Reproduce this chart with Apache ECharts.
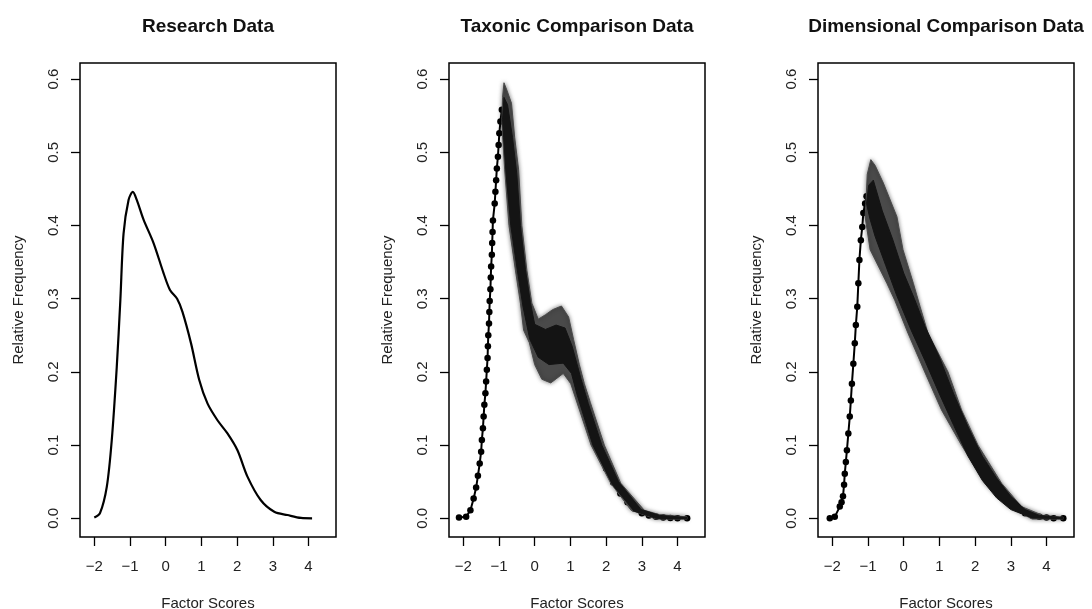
<!DOCTYPE html>
<html>
<head>
<meta charset="utf-8">
<script src="https://cdn.jsdelivr.net/npm/echarts@6/dist/echarts.min.js"></script>
<style>
  html, body { margin: 0; padding: 0; background: #fff; }
  #chart { width: 1092px; height: 609px; }
</style>
</head>
<body>
<div id="chart"></div>
<script>
// ---- labels ----
const panelTitles = ['Research Data', 'Taxonic Comparison Data', 'Dimensional Comparison Data'];
const xAxisTitle = 'Factor Scores';
const yAxisTitle = 'Relative Frequency';
const xTicks = [-2, -1, 0, 1, 2, 3, 4];
const yTicks = [0, 0.1, 0.2, 0.3, 0.4, 0.5, 0.6];

// ---- Research data: density of observed factor scores ----
const researchX = [-2.0, -1.84, -1.65, -1.51, -1.37, -1.27, -1.18, -1.04, -0.92, -0.81, -0.62, -0.34, -0.06, 0.12, 0.32, 0.47, 0.71, 0.94, 1.17, 1.45, 1.73, 2.01, 2.29, 2.66, 3.04, 3.41, 3.79, 4.1];
const researchY = [0.001, 0.007, 0.043, 0.107, 0.207, 0.298, 0.389, 0.435, 0.446, 0.435, 0.408, 0.376, 0.335, 0.312, 0.300, 0.282, 0.239, 0.189, 0.157, 0.134, 0.116, 0.093, 0.057, 0.025, 0.009, 0.0045, 0.0005, 0.0];

// ---- Taxonic comparison: average curve (points) ----
const taxX = [-2.12, -1.92, -1.80, -1.71, -1.64, -1.59, -1.54, -1.50, -1.48, -1.45,
  -1.43, -1.41, -1.38, -1.36, -1.34, -1.32, -1.31, -1.30, -1.28, -1.27,
  -1.26, -1.24, -1.23, -1.22, -1.20, -1.19, -1.18, -1.17, -1.12, -1.10,
  -1.08, -1.06, -1.03, -1.01, -0.99, -0.96, -0.92, -0.82, -0.7, -0.6,
  -0.5, -0.4, -0.3, -0.2, -0.1, 0, 0.2, 0.4, 0.6, 0.8,
  1.0, 1.2, 1.4, 1.6, 1.8, 2.0, 2.2, 2.4, 2.6, 2.8,
  3.0, 3.2, 3.4, 3.6, 3.8, 4.0, 4.27];
const taxY = [0.001, 0.002, 0.011, 0.027, 0.042, 0.058, 0.075, 0.091, 0.107, 0.123,
  0.139, 0.155, 0.171, 0.187, 0.203, 0.219, 0.235, 0.250, 0.266, 0.282,
  0.297, 0.313, 0.329, 0.344, 0.360, 0.376, 0.391, 0.407, 0.430, 0.446,
  0.462, 0.478, 0.494, 0.510, 0.526, 0.542, 0.558, 0.567, 0.505, 0.455,
  0.405, 0.36, 0.32, 0.285, 0.26, 0.245, 0.235, 0.235, 0.24, 0.24,
  0.225, 0.19, 0.155, 0.123, 0.094, 0.068, 0.049, 0.034, 0.022, 0.013,
  0.007, 0.004, 0.002, 0.001, 0.0003, 0, 0];

// Taxonic replicates: outline of the full scatter and of its dense core
const taxCloudX = [-0.92, -0.90, -0.86, -0.78, -0.65, -0.56, -0.45, -0.36, -0.22, -0.08, 0.10, 0.30, 0.50, 0.75, 0.95, 1.09, 1.25, 1.39, 1.56, 1.95, 2.41, 3.07, 3.5, 4.27,
  4.27, 3.4, 2.70, 2.13, 1.58, 1.01, 0.80, 0.45, 0.20, 0.0, -0.15, -0.31, -0.40, -0.54, -0.72, -0.84];
const taxCloudY = [0.54, 0.575, 0.595, 0.585, 0.567, 0.52, 0.476, 0.40, 0.339, 0.294, 0.272, 0.278, 0.285, 0.29, 0.275, 0.244, 0.21, 0.184, 0.158, 0.10, 0.048, 0.011, 0.005, 0.002,
  -0.001, -0.001, 0.011, 0.048, 0.10, 0.184, 0.198, 0.185, 0.19, 0.21, 0.24, 0.257, 0.294, 0.339, 0.40, 0.476];
const taxCoreX = [-0.90, -0.86, -0.76, -0.62, -0.50, -0.40, -0.26, -0.12, 0.0, 0.3, 0.6, 0.85, 1.05, 1.3, 1.5, 1.88, 2.35, 2.98, 3.5, 4.27,
  4.27, 3.4, 2.78, 2.18, 1.63, 1.18, 1.03, 0.8, 0.4, 0.1, -0.14, -0.33, -0.49, -0.67, -0.80, -0.87];
const taxCoreY = [0.545, 0.575, 0.565, 0.52, 0.47, 0.40, 0.34, 0.295, 0.265, 0.258, 0.264, 0.26, 0.235, 0.19, 0.157, 0.10, 0.05, 0.012, 0.004, 0.0012,
  -0.0005, 0.0, 0.01, 0.046, 0.10, 0.17, 0.198, 0.212, 0.21, 0.22, 0.245, 0.29, 0.34, 0.40, 0.47, 0.52];

// ---- Dimensional comparison: average curve (points) ----
const dimX = [-2.07, -1.93, -1.79, -1.74, -1.70, -1.67, -1.65, -1.62, -1.59, -1.55,
  -1.51, -1.48, -1.45, -1.41, -1.37, -1.34, -1.30, -1.27, -1.24, -1.20,
  -1.16, -1.13, -1.08, -1.04, -0.9, -0.8, -0.6, -0.4, -0.2, 0,
  0.2, 0.4, 0.6, 0.8, 1.0, 1.2, 1.4, 1.6, 1.8, 2.0,
  2.2, 2.4, 2.6, 2.8, 3.0, 3.2, 3.4, 3.6, 3.8, 4.0,
  4.2, 4.47];
const dimY = [0, 0.002, 0.016, 0.022, 0.030, 0.046, 0.061, 0.077, 0.093, 0.116,
  0.139, 0.161, 0.184, 0.211, 0.239, 0.264, 0.289, 0.321, 0.353, 0.380,
  0.398, 0.417, 0.430, 0.440, 0.435, 0.425, 0.398, 0.37, 0.335, 0.303,
  0.28, 0.258, 0.235, 0.21, 0.185, 0.16, 0.14, 0.12, 0.1, 0.083,
  0.07, 0.057, 0.045, 0.033, 0.022, 0.013, 0.007, 0.004, 0.002, 0.001,
  0, 0];

// Dimensional replicates: outline of the full scatter and of its dense core
const dimCloudX = [-1.06, -1.02, -0.92, -0.80, -0.57, -0.19, -0.02, 0.27, 0.46, 0.68, 1.24, 1.62, 2.08, 2.74, 3.30, 3.9, 4.47,
  4.47, 3.6, 2.93, 2.27, 1.62, 1.06, 0.59, 0.12, -0.25, -0.47, -0.94, -1.08];
const dimCloudY = [0.43, 0.47, 0.49, 0.482, 0.458, 0.412, 0.367, 0.321, 0.289, 0.253, 0.20, 0.148, 0.10, 0.048, 0.016, 0.004, 0.0015,
  -0.001, -0.001, 0.016, 0.048, 0.10, 0.148, 0.20, 0.253, 0.298, 0.321, 0.367, 0.412];
const dimCoreX = [-1.04, -0.98, -0.85, -0.6, -0.3, 0.0, 0.3, 0.6, 1.0, 1.4, 1.8, 2.2, 2.6, 3.0, 3.4, 3.8, 4.47,
  4.47, 3.6, 3.0, 2.6, 2.2, 1.8, 1.4, 1.0, 0.6, 0.2, -0.2, -0.5, -0.8, -0.95];
const dimCoreY = [0.43, 0.455, 0.462, 0.42, 0.38, 0.335, 0.30, 0.262, 0.22, 0.17, 0.125, 0.085, 0.055, 0.03, 0.012, 0.004, 0.001,
  -0.0005, 0.0005, 0.012, 0.028, 0.052, 0.085, 0.127, 0.17, 0.215, 0.258, 0.305, 0.345, 0.385, 0.41];

// ---- layout & style ----
const FONT = '"Liberation Sans", Arial, Helvetica, sans-serif';
const INK = '#000';
const TEXT = '#222';
const panelLeft = [80, 449, 818];
const panelTop = 63;
const panelWidth = 256;
const panelHeight = 474;

const zip = (xs, ys) => xs.map((x, i) => [x, ys[i]]);
const fmtX = v => (v < 0 ? '\u2212' + Math.abs(v) : String(v));

// Closed outline of a point cloud, drawn as one polygon through the axis scales
function cloudSeries(idx, xs, ys, fill, z, blur) {
  return {
    type: 'custom',
    xAxisIndex: idx,
    yAxisIndex: idx,
    z: z,
    silent: true,
    data: zip(xs, ys),
    encode: { x: 0, y: 1 },
    renderItem(params, api) {
      if (params.dataIndexInside !== 0) return null;
      const n = params.dataInsideLength;
      const pts = [];
      for (let k = 0; k < n; k++) {
        pts.push(api.coord([api.value(0, k), api.value(1, k)]));
      }
      return {
        type: 'polygon',
        shape: { points: pts },
        style: { fill: fill, stroke: fill, lineWidth: 1, shadowBlur: blur, shadowColor: 'rgba(0,0,0,0.5)' }
      };
    }
  };
}

const grids = panelLeft.map(l => ({
  left: l, top: panelTop, width: panelWidth, height: panelHeight,
  containLabel: false, outerBoundsMode: 'none',
  show: true, borderColor: INK, borderWidth: 1.5, backgroundColor: 'transparent'
}));

const xAxes = panelLeft.map((_, i) => ({
  type: 'value', gridIndex: i, min: -2.4, max: 4.77, position: 'bottom',
  axisLine: { show: false, onZero: false },
  splitLine: { show: false },
  axisTick: { show: true, inside: false, length: 9, customValues: xTicks, lineStyle: { color: INK, width: 1.3 } },
  axisLabel: { show: true, customValues: xTicks, margin: 22, fontSize: 15, color: TEXT, fontFamily: FONT, formatter: fmtX },
  name: xAxisTitle, nameLocation: 'middle', nameGap: 59,
  nameTextStyle: { fontSize: 15, color: TEXT, fontFamily: FONT }
}));

const yAxes = panelLeft.map((_, i) => ({
  type: 'value', gridIndex: i, min: -0.0255, max: 0.622, position: 'left',
  axisLine: { show: false, onZero: false },
  splitLine: { show: false },
  axisTick: { show: true, inside: false, length: 9, customValues: yTicks, lineStyle: { color: INK, width: 1.3 } },
  axisLabel: { show: true, customValues: yTicks, rotate: 90, margin: 19, fontSize: 15, color: TEXT, fontFamily: FONT, formatter: v => v.toFixed(1) },
  name: yAxisTitle, nameLocation: 'middle', nameGap: 54, nameRotate: 90,
  nameTextStyle: { fontSize: 15, color: TEXT, fontFamily: FONT }
}));

const titles = panelTitles.map((t, i) => ({
  text: t, left: panelLeft[i] + panelWidth / 2, top: 17, textAlign: 'center', padding: 0,
  textStyle: { fontSize: 19, fontWeight: 'bold', color: '#111', fontFamily: FONT }
}));

const pointLine = (idx, xs, ys) => ({
  type: 'line', xAxisIndex: idx, yAxisIndex: idx, z: 2,
  data: zip(xs, ys),
  symbol: 'circle', symbolSize: 6.5, showSymbol: true,
  itemStyle: { color: INK },
  lineStyle: { color: INK, width: 2 }
});

const option = {
  animation: false,
  backgroundColor: '#fff',
  title: titles,
  grid: grids,
  xAxis: xAxes,
  yAxis: yAxes,
  series: [
    {
      type: 'line', xAxisIndex: 0, yAxisIndex: 0,
      data: zip(researchX, researchY),
      smooth: 0.3, symbol: 'none',
      lineStyle: { color: INK, width: 2.2 }
    },
    pointLine(1, taxX, taxY),
    cloudSeries(1, taxCloudX, taxCloudY, '#4a4a4a', 3, 4),
    cloudSeries(1, taxCoreX, taxCoreY, '#141414', 4, 0),
    pointLine(2, dimX, dimY),
    cloudSeries(2, dimCloudX, dimCloudY, '#4a4a4a', 3, 4),
    cloudSeries(2, dimCoreX, dimCoreY, '#141414', 4, 0)
  ]
};

const chart = echarts.init(document.getElementById('chart'), null, { renderer: 'canvas' });
chart.setOption(option);
</script>
</body>
</html>
